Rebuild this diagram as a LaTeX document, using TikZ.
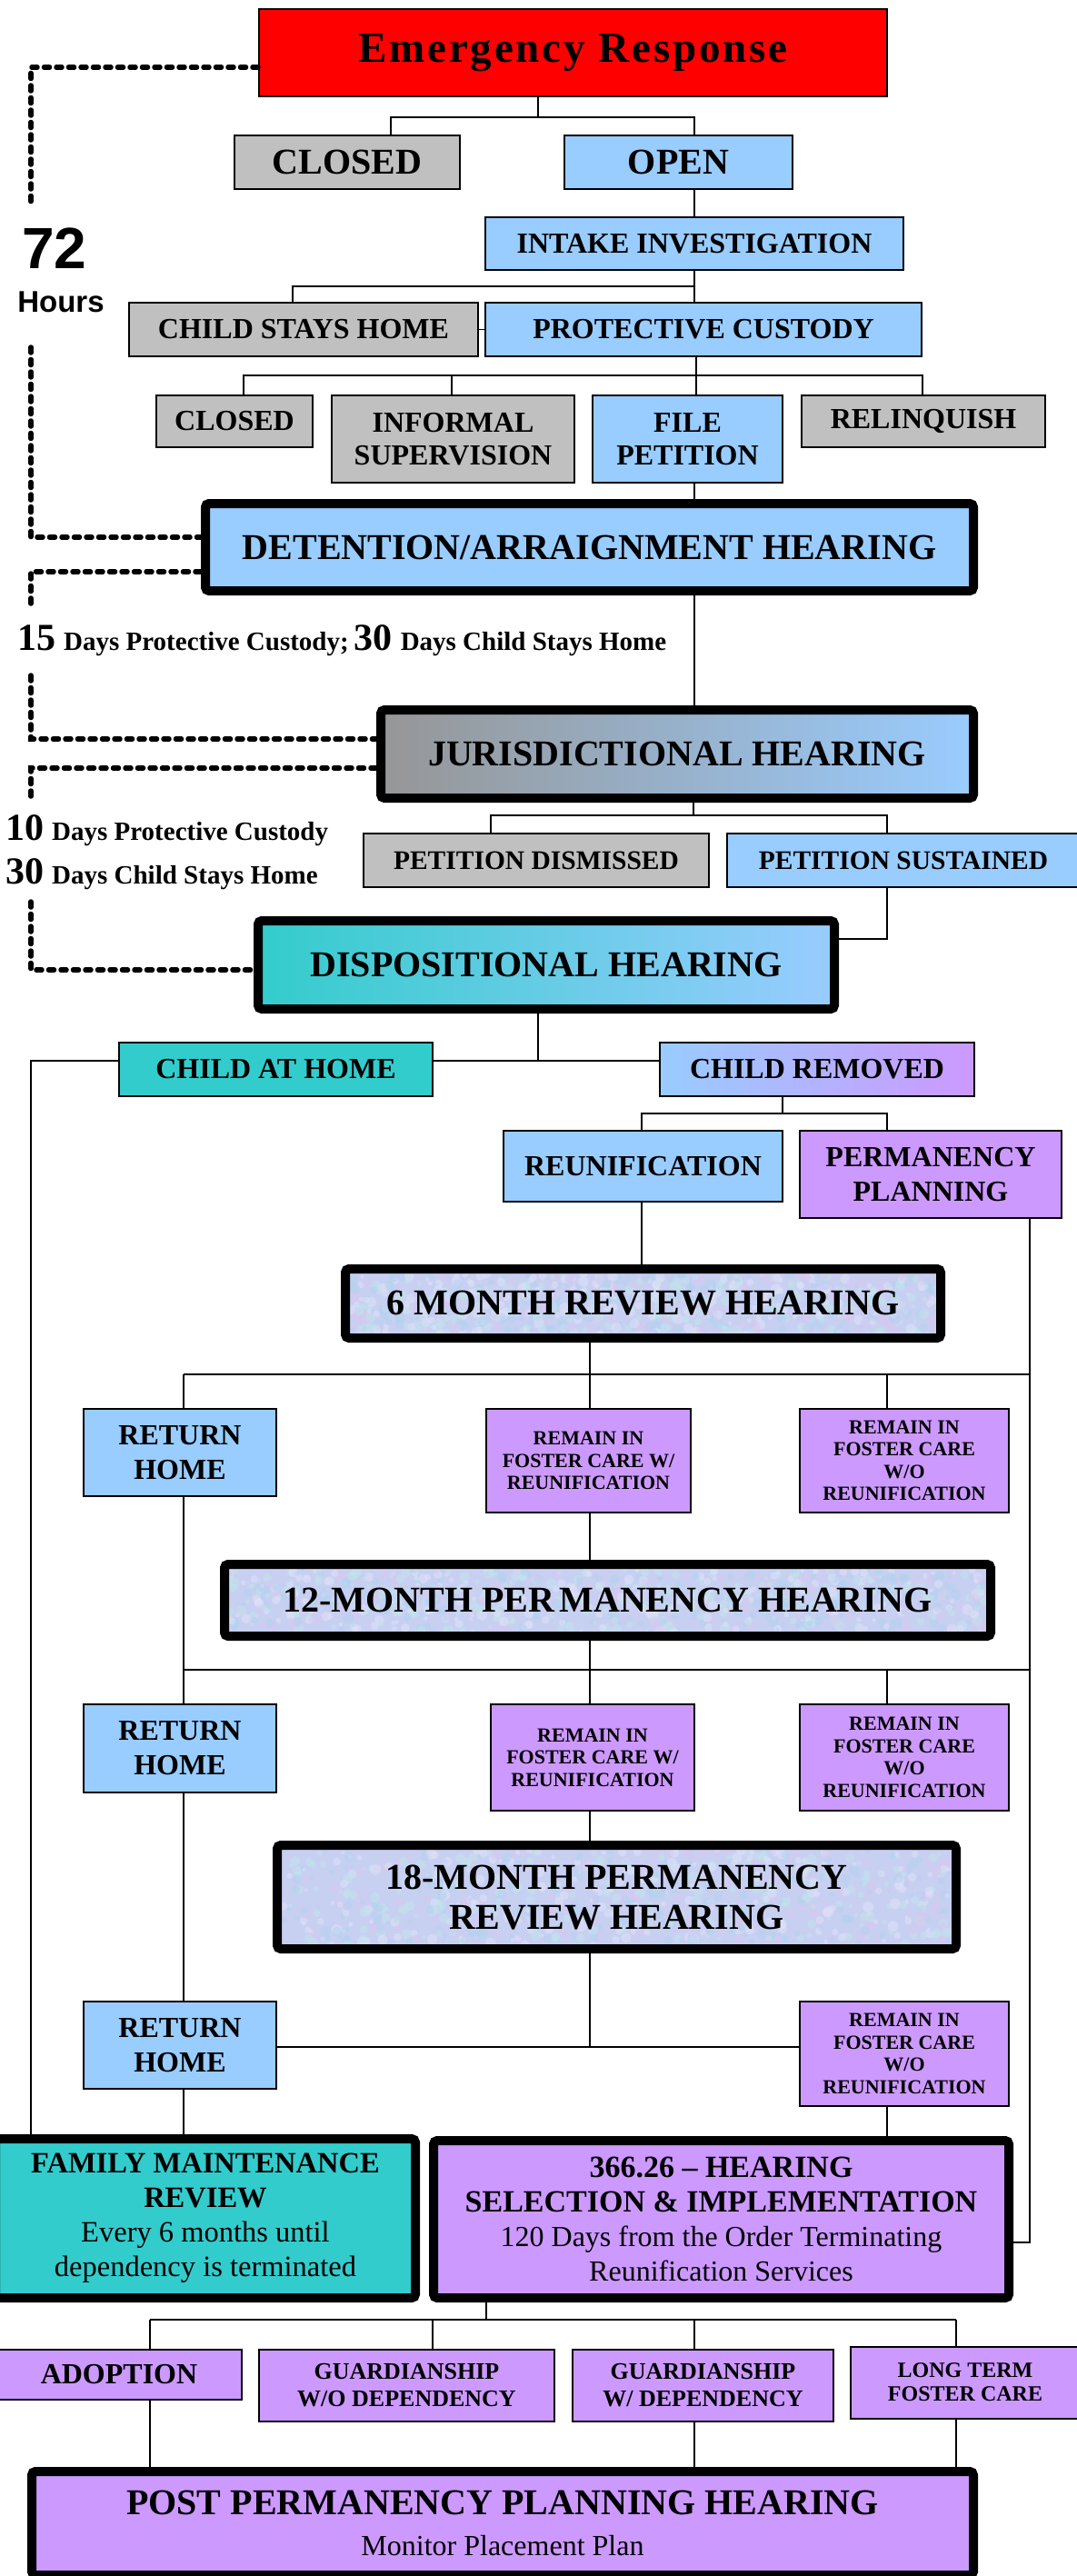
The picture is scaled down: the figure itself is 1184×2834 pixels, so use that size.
\documentclass[tikz,border=0pt]{standalone}
\usepackage{fontspec}
\setmainfont{Liberation Serif}
\newfontfamily\arialfont{Liberation Sans}
\usetikzlibrary{calc}
\definecolor{ergred}{RGB}{255,0,0}
\definecolor{boxgray}{RGB}{192,192,192}
\definecolor{boxblue}{RGB}{153,204,255}
\definecolor{boxpurple}{RGB}{204,153,255}
\definecolor{boxteal}{RGB}{51,204,204}
\definecolor{jgray}{RGB}{150,150,150}
\definecolor{texbase}{RGB}{200,208,242}
\definecolor{tex0}{RGB}{216,200,240}
\definecolor{tex1}{RGB}{178,210,240}
\definecolor{tex2}{RGB}{194,228,236}
\definecolor{tex3}{RGB}{224,226,248}
\newcommand\fsz[2]{\fontsize{#1}{#2}\selectfont}
\newcommand\mottle[4]{%
\begin{scope}
\clip (#1,#2) rectangle (#3,#4);
\fill[texbase] (#1,#2) rectangle (#3,#4);
\foreach \k in {1,...,900}{%
 \pgfmathsetmacro\px{#1+rnd*(#3-#1)}%
 \pgfmathsetmacro\py{#2+rnd*(#4-#2)}%
 \pgfmathtruncatemacro\pc{4*rnd}%
 \pgfmathsetmacro\pr{2+4*rnd}%
 \fill[tex\pc, opacity=0.5] (\px,\py) circle[radius=\pr pt];
}
\end{scope}}
\begin{document}
\begin{tikzpicture}[x=1pt,y=-1pt,
  tb/.style={draw=black, line width=2pt, inner sep=0pt, align=center},
  thk/.style={draw=black, line width=10pt, rounded corners=4pt, inner sep=0pt, align=center},
  conn/.style={line width=1.6pt},
  dashline/.style={line width=5.5pt, line cap=round, dash pattern=on 6pt off 7.5pt},
  lbl/.style={inner sep=0pt, font=\bfseries}]
\useasboundingbox (0,0) rectangle (1184,2834);
\pgfmathsetseed{7}
% textured backgrounds
\mottle{385}{1401}{1030}{1467}
\mottle{252}{1726}{1085}{1795}
\mottle{310}{2035}{1047}{2139}

% thin boxes
\node[tb, fill=ergred, minimum width=691, minimum height=96, font={\bfseries\fsz{47}{52}}] (er) at (630.5,58) {\addfontfeature{LetterSpace=6}Emergency Response};
\node[tb, fill=boxgray, minimum width=248, minimum height=59, font={\bfseries\fsz{40}{44}}] (closedA) at (382,178.5) {CLOSED};
\node[tb, fill=boxblue, minimum width=251, minimum height=59, font={\bfseries\fsz{40}{44}}] (open) at (746.5,178.5) {OPEN};
\node[tb, fill=boxblue, minimum width=460, minimum height=58, font={\bfseries\fsz{32}{36}}] (intake) at (764,268) {INTAKE INVESTIGATION};
\node[tb, fill=boxgray, minimum width=384, minimum height=59, font={\bfseries\fsz{32}{36}}] (stays) at (334,362.5) {CHILD STAYS HOME};
\node[tb, fill=boxblue, minimum width=480, minimum height=59, font={\bfseries\fsz{32}{36}}] (pc) at (774,362.5) {PROTECTIVE CUSTODY};
\node[tb, fill=boxgray, minimum width=172, minimum height=57, font={\bfseries\fsz{32}{36}}] (closedB) at (258,463.5) {CLOSED};
\node[tb, fill=boxgray, minimum width=267, minimum height=96, font={\bfseries\fsz{32}{36}}] (informal) at (498.5,483) {INFORMAL\\SUPERVISION};
\node[tb, fill=boxblue, minimum width=209, minimum height=96, font={\bfseries\fsz{32}{36}}] (file) at (756.5,483) {FILE\\PETITION};
\node[tb, fill=boxgray, minimum width=268, minimum height=57, font={\bfseries\fsz{32}{36}}] (relinq) at (1016,463.5) {RELINQUISH};
\node[tb, fill=boxgray, minimum width=380, minimum height=59, font={\bfseries\fsz{29.5}{34}}] (pd) at (590,946.5) {PETITION DISMISSED};
\node[tb, fill=boxblue, minimum width=388, minimum height=59, font={\bfseries\fsz{29.5}{34}}] (ps) at (994,946.5) {PETITION SUSTAINED};
\node[tb, fill=boxteal, minimum width=345, minimum height=59, font={\bfseries\fsz{32}{36}}] (cah) at (303.5,1176.5) {CHILD AT HOME};
\node[tb, left color=boxblue, right color=boxpurple, minimum width=346, minimum height=59, font={\bfseries\fsz{32}{36}}] (cr) at (899,1176.5) {CHILD REMOVED};
\node[tb, fill=boxblue, minimum width=307, minimum height=78, font={\bfseries\fsz{32}{36}}] (reun) at (707.5,1283) {REUNIFICATION};
\node[tb, fill=boxpurple, minimum width=288, minimum height=96, font={\bfseries\fsz{32}{38}}] (pp) at (1024,1292) {PERMANENCY\\PLANNING};
\node[tb, fill=boxblue, minimum width=212, minimum height=96, font={\bfseries\fsz{32}{38}}] (rh1) at (198,1598) {RETURN\\HOME};
\node[tb, fill=boxpurple, minimum width=225, minimum height=114, font={\bfseries\fsz{22}{24.5}}] (rw1) at (647.5,1607) {REMAIN IN\\FOSTER CARE W/\\REUNIFICATION};
\node[tb, fill=boxpurple, minimum width=230, minimum height=114, font={\bfseries\fsz{22}{24.5}}] (rwo1) at (995,1607) {REMAIN IN\\FOSTER CARE\\W/O\\REUNIFICATION};
\node[tb, fill=boxblue, minimum width=212, minimum height=97, font={\bfseries\fsz{32}{38}}] (rh2) at (198,1923.5) {RETURN\\HOME};
\node[tb, fill=boxpurple, minimum width=224, minimum height=117, font={\bfseries\fsz{22}{24.5}}] (rw2) at (652,1933.5) {REMAIN IN\\FOSTER CARE W/\\REUNIFICATION};
\node[tb, fill=boxpurple, minimum width=230, minimum height=117, font={\bfseries\fsz{22}{24.5}}] (rwo2) at (995,1933.5) {REMAIN IN\\FOSTER CARE\\W/O\\REUNIFICATION};
\node[tb, fill=boxblue, minimum width=212, minimum height=96, font={\bfseries\fsz{32}{38}}] (rh3) at (198,2250) {RETURN\\HOME};
\node[tb, fill=boxpurple, minimum width=230, minimum height=115, font={\bfseries\fsz{22}{24.5}}] (rwo3) at (995,2259.5) {REMAIN IN\\FOSTER CARE\\W/O\\REUNIFICATION};
\node[tb, fill=boxpurple, minimum width=270, minimum height=55, font={\bfseries\fsz{32}{36}}] (adop) at (131,2612.5) {ADOPTION};
\node[tb, fill=boxpurple, minimum width=325, minimum height=79, font={\bfseries\fsz{26}{30}}] (gwo) at (447.5,2624.5) {GUARDIANSHIP\\W/O DEPENDENCY};
\node[tb, fill=boxpurple, minimum width=287, minimum height=79, font={\bfseries\fsz{26}{30}}] (gw) at (773.5,2624.5) {GUARDIANSHIP\\W/ DEPENDENCY};
\node[tb, fill=boxpurple, minimum width=252, minimum height=79, font={\bfseries\fsz{24}{26}}] (ltfc) at (1062,2621) {LONG TERM\\FOSTER CARE};

% thick boxes
\node[thk, fill=boxblue, minimum width=845, minimum height=96, font={\bfseries\fsz{40}{46}}] (det) at (648.5,602) {DETENTION/ARRAIGNMENT HEARING};
\node[thk, left color=jgray, right color=boxblue, minimum width=652, minimum height=97, font={\bfseries\fsz{40}{46}}] (juris) at (745,829.5) {JURISDICTIONAL HEARING};
\node[thk, left color=boxteal, right color=boxblue, minimum width=634, minimum height=97, font={\bfseries\fsz{40}{46}}] (dispo) at (601,1061.5) {DISPOSITIONAL HEARING};
\node[thk, minimum width=655, minimum height=76, font={\bfseries\fsz{40}{46}}] (six) at (707.5,1434) {6 MONTH REVIEW HEARING};
\node[thk, minimum width=843, minimum height=79, font={\bfseries\fsz{40}{46}}] (twelve) at (668.5,1760.5) {12-MONTH PER\kern5pt MANENCY HEARING};
\node[thk, minimum width=747, minimum height=114, font={\bfseries\fsz{40}{44}}] (eighteen) at (678.5,2087) {18-MONTH PERMANENCY\\REVIEW HEARING};
\node[thk, fill=boxteal, minimum width=462, minimum height=175, font={\fsz{32.5}{38}}] (fm) at (226,2440.5) {\textbf{FAMILY MAINTENANCE}\\\textbf{REVIEW}\\Every 6 months until\\dependency is terminated};
\node[thk, fill=boxpurple, minimum width=633, minimum height=173, font={\fsz{32}{38}}] (sel) at (793.5,2441.5) {\textbf{\fsz{34}{38}366.26 -- HEARING}\\\textbf{\fsz{34}{38}SELECTION \& IMPLEMENTATION}\\120 Days from the Order Terminating\\Reunification Services};
\node[thk, fill=boxpurple, minimum width=1036, minimum height=114, font={\fsz{32}{45}}] (ppph) at (553,2776) {\textbf{\fsz{40}{45}POST PERMANENCY PLANNING HEARING}\\Monitor Placement Plan};

% side labels
\node[lbl, anchor=base, font={\arialfont\bfseries\fsz{64}{70}}] (h72) at (60,295) {72};
\node[lbl, anchor=base, font={\arialfont\bfseries\fsz{33}{38}}] (hours) at (67,343) {Hours};
\node[lbl, anchor=base west] (t15) at (19,715) {{\fsz{42}{46}15}\hspace{9pt}{\fsz{29}{34}Days Protective Custody;}\hspace{6pt}{\fsz{42}{46}30}\hspace{9pt}{\fsz{29}{34}Days Child Stays Home}};
\node[lbl, anchor=base west] (t10) at (6,924) {{\fsz{42}{46}10}\hspace{9pt}{\fsz{29}{34}Days Protective Custody}};
\node[lbl, anchor=base west] (t30) at (6,972) {{\fsz{42}{46}30}\hspace{9pt}{\fsz{29}{34}Days Child Stays Home}};

% free ends of the time lines
\coordinate (d1) at (34,227);
\coordinate (d2) at (34,382);
\coordinate (d3) at (34,664);
\coordinate (d4) at (34,743);
\coordinate (d5) at (34,876);
\coordinate (d6) at (34,992);
\draw[dashline] (er.west |- 0,74) -- (34,74) -- (d1);
\draw[dashline] (d2) -- (34,591) -- (det.west |- 0,591);
\draw[dashline] (det.west |- 0,629) -- (34,629) -- (d3);
\draw[dashline] (d4) -- (34,813) -- (juris.west |- 0,813);
\draw[dashline] (juris.west |- 0,845) -- (34,845) -- (d5);
\draw[dashline] (d6) -- (34,1067) -- (dispo.west |- 0,1067);

% connectors
\draw[conn] (er.south -| 592,0) -- (592,129) -| (closedA.north -| 430,0);
\draw[conn] (592,129) -| (open.north -| 764,0);
\draw[conn] (open.south -| intake.north) -- (intake.north);
\draw[conn] (intake.south) -- (764,315) -| (stays.north -| 322,0);
\draw[conn] (764,315) -- (pc.north -| 764,0);
\draw[conn] (stays.east) -- (pc.west);
\draw[conn] (pc.south -| 766,0) -- (766,413) -| (closedB.north -| 268,0);
\draw[conn] (766,413) -| (relinq.north -| 1015,0);
\draw[conn] (497,413) -- (informal.north -| 497,0);
\draw[conn] (766,413) -- (file.north -| 766,0);
\draw[conn] (file.south -| 764,0) -- (det.north -| 764,0);
\draw[conn] (det.south -| 764,0) -- (juris.north -| 764,0);
\draw[conn] (juris.south -| 763,0) -- (763,897) -| (pd.north -| 540,0);
\draw[conn] (763,897) -| (ps.north -| 976,0);
\draw[conn] (ps.south -| 976,0) |- (dispo.east |- 0,1033);
\draw[conn] (dispo.south -| 592,0) -- (592,1167);
\draw[conn] (cah.east |- 0,1167) -- (cr.west |- 0,1167);
\draw[conn] (cah.west |- 0,1167) -| (fm.north -| 34,0);
\draw[conn] (cr.south -| 861,0) -- (861,1225) -| (reun.north -| 706,0);
\draw[conn] (861,1225) -| (pp.north -| 976,0);
\draw[conn] (reun.south -| 706,0) -- (six.north -| 706,0);
\draw[conn] (pp.south -| 1133,0) |- (sel.east |- 0,2467);
\draw[conn] (six.south -| 649,0) -- (649,1512);
\draw[conn] (202,1512) -- (1133,1512);
\draw[conn] (202,1512) -- (rh1.north -| 202,0);
\draw[conn] (649,1512) -- (rw1.north -| 649,0);
\draw[conn] (976,1512) -- (rwo1.north -| 976,0);
\draw[conn] (rh1.south -| 202,0) -- (rh2.north -| 202,0);
\draw[conn] (202,1837) -- (1133,1837);
\draw[conn] (rw1.south -| 649,0) -- (twelve.north -| 649,0);
\draw[conn] (twelve.south -| 649,0) -- (rw2.north -| 649,0);
\draw[conn] (976,1837) -- (rwo2.north -| 976,0);
\draw[conn] (rw2.south -| 649,0) -- (eighteen.north -| 649,0);
\draw[conn] (eighteen.south -| 649,0) -- (649,2252);
\draw[conn] (rh3.east |- 0,2252) -- (rwo3.west |- 0,2252);
\draw[conn] (rh2.south -| 202,0) -- (rh3.north -| 202,0);
\draw[conn] (rh3.south -| 202,0) -- (fm.north -| 202,0);
\draw[conn] (rwo3.south -| 976,0) -- (sel.north -| 976,0);
\draw[conn] (sel.south -| 535,0) -- (535,2552);
\draw[conn] (165,2552) -- (1052,2552);
\draw[conn] (165,2552) -- (adop.north -| 165,0);
\draw[conn] (476,2552) -- (gwo.north -| 476,0);
\draw[conn] (764,2552) -- (gw.north -| 764,0);
\draw[conn] (1052,2552) -- (ltfc.north -| 1052,0);
\draw[conn] (adop.south -| 165,0) -- (ppph.north -| 165,0);
\draw[conn] (gw.south -| 764,0) -- (ppph.north -| 764,0);
\draw[conn] (ltfc.south -| 1052,0) -- (ppph.north -| 1052,0);
\end{tikzpicture}
\end{document}
